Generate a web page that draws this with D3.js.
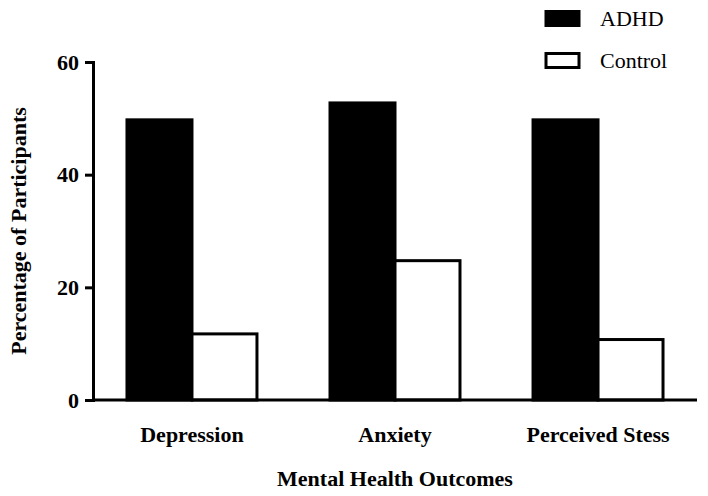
<!DOCTYPE html>
<html><head><meta charset="utf-8">
<script src="https://cdn.jsdelivr.net/npm/d3@7"></script>
<style>body{margin:0;background:#fff}text{font-family:"Liberation Serif","Times New Roman",serif}</style>
</head><body><svg id="c" width="708" height="496"></svg>
<script>
const categories = ["Depression", "Anxiety", "Perceived Stess"];
const series = ["ADHD", "Control"];
const adhd = [50, 53, 50];
const control = [12, 25, 11];
const yTicks = [0, 20, 40, 60];

const svg = d3.select("#c");
const mLeft = 93, mRight = 697, mTop = 62, mBottom = 400;
const y = d3.scaleLinear().domain([0, 60]).range([mBottom, mTop]);
const x = d3.scaleBand().domain(categories).range([mLeft, mRight]).paddingInner(0.345).paddingOuter(0.16);
const xs = d3.scaleBand().domain(series).range([0, x.bandwidth()]);

const g = svg.append("g");
categories.forEach((c, i) => {
  [adhd[i], control[i]].forEach((v, j) => {
    g.append("rect")
      .attr("x", x(c) + xs(series[j]) + (j ? 0 : 1.5))
      .attr("y", y(v) + 1.5)
      .attr("width", xs.bandwidth() - 1.5)
      .attr("height", y(0) - y(v) - 1.5)
      .attr("fill", j ? "#fff" : "#000")
      .attr("stroke", "#000").attr("stroke-width", 3);
  });
});

const ya = svg.append("g").attr("transform", `translate(${mLeft},0)`)
  .call(d3.axisLeft(y).tickValues(yTicks).tickSize(8).tickPadding(6));
const xa = svg.append("g").attr("transform", `translate(0,${mBottom})`)
  .call(d3.axisBottom(x).tickSize(0).tickPadding(26));
[ya, xa].forEach(a => {
  a.select(".domain").attr("stroke-width", 3);
  a.selectAll("line").attr("stroke-width", 3);
  a.selectAll("text").style("font-size", "22px").style("font-weight", "bold").attr("fill", "#000");
});
xa.select(".domain").attr("d", `M${mLeft},0H${mRight}`);

svg.append("text").attr("x", 395).attr("y", 486).attr("text-anchor", "middle")
  .style("font-size", "22px").style("font-weight", "bold").text("Mental Health Outcomes");
svg.append("text").attr("transform", "translate(26,231) rotate(-90)").attr("text-anchor", "middle")
  .style("font-size", "22px").style("font-weight", "bold").text("Percentage of Participants");

series.forEach((s, j) => {
  const ly = 10 + j * 42;
  svg.append("rect").attr("x", 546).attr("y", ly + 1.5).attr("width", 33).attr("height", 14)
    .attr("fill", j ? "#fff" : "#000").attr("stroke", "#000").attr("stroke-width", 3);
  svg.append("text").attr("x", 600).attr("y", ly + 16).style("font-size", "22px").text(s);
});
</script></body></html>
